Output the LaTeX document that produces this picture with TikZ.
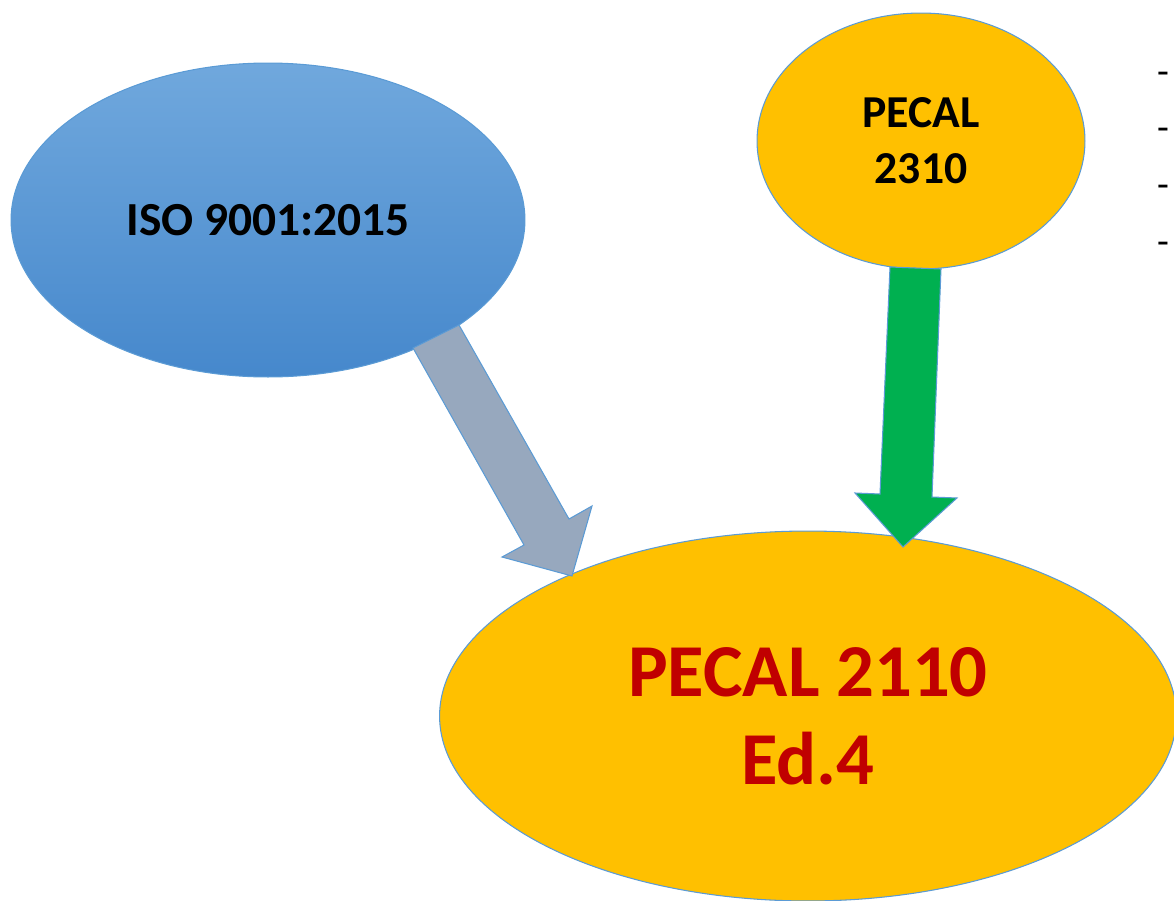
\documentclass[tikz,border=0pt]{standalone}
\usepackage{fontspec}
\setmainfont{Carlito}
\usepackage{tikz}
\usetikzlibrary{shapes,positioning}
\usepackage{xcolor}
\definecolor{isotop}{RGB}{112,168,221}
\definecolor{isobottom}{RGB}{70,136,204}
\definecolor{pecalgold}{RGB}{255,192,0}
\definecolor{pecalred}{RGB}{192,0,0}
\definecolor{outlineblue}{RGB}{91,155,213}
\definecolor{arrowgray}{RGB}{151,168,190}
\definecolor{arrowgreen}{RGB}{0,176,80}
\tikzstyle{standard} = [ellipse, inner sep=0pt, draw=outlineblue, line width=0.6pt, text centered, align=center, font=\bfseries]
\tikzstyle{blockarrow} = [draw=outlineblue, line width=0.6pt, line join=miter]

\begin{document}
\begin{tikzpicture}[x=0.02cm, y=-0.02cm]
\useasboundingbox (0,0) rectangle (1174,900);
\clip (0,0) rectangle (1174,900);

% ISO standard
\node (iso) [standard, top color=isotop, bottom color=isobottom, minimum width=10.28cm, minimum height=6.28cm, font=\fontsize{27}{32}\selectfont\bfseries] at (268,220) {ISO 9001:2015};

% PECAL 2310
\node (pecalA) [standard, fill=pecalgold, minimum width=6.56cm, minimum height=5.12cm, font=\fontsize{26}{32}\selectfont\bfseries] at (921,141) {PECAL\\2310};

% PECAL 2110
\node (pecalB) [standard, fill=pecalgold, text=pecalred, minimum width=14.74cm, minimum height=7.4cm, font=\fontsize{42.5}{50}\selectfont\bfseries] at (808,716) {PECAL 2110\\Ed.4};

% List
\node (list) [align=left, inner sep=0pt, font=\fontsize{22}{32.3}\selectfont] at (1163,163) {-\\-\\-\\-};

% Arrows
\draw[blockarrow, fill=arrowgray] (413,348) -- (459,325) -- (569,519) -- (592,506) -- (572,576) -- (502,557) -- (524,545) -- cycle;
\draw[blockarrow, fill=arrowgreen] (890,267) -- (941,269) -- (932,497) -- (957,498) -- (903,547) -- (855,493) -- (880,494) -- cycle;
\end{tikzpicture}
\end{document}
